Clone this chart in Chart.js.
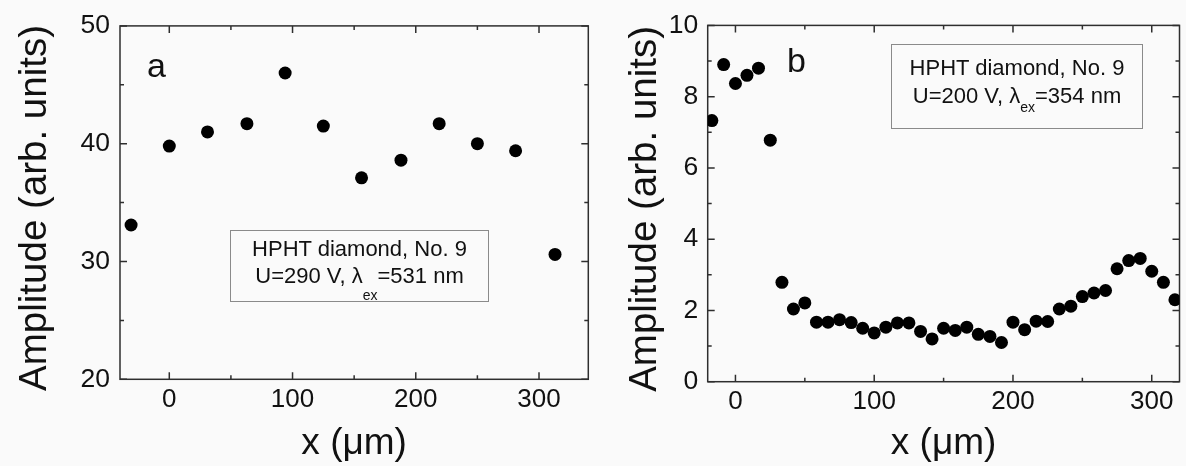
<!DOCTYPE html>
<html lang="en">
<head>
<meta charset="UTF-8" />
<title>Amplitude vs x</title>
<script src="https://cdn.jsdelivr.net/npm/chart.js"></script>
<style>
  body { margin: 0; background: #fafafa; }
  #page { position: relative; width: 1186px; height: 466px; overflow: hidden; background: #fafafa;
          font-family: "Liberation Sans", Arial, sans-serif; color: #111; }
  .panel { position: absolute; top: 0; }
  .note { position: absolute; border: 1px solid #8a8a8a; box-sizing: border-box; font-size: 22px; }
  .note div { position: absolute; left: 0; right: 0; text-align: center; line-height: 24px; white-space: nowrap; }
  .note sub { font-size: 14px; line-height: 0; }
  .letter { position: absolute; font-size: 34px; line-height: 34px; }
</style>
</head>
<body>
<div id="page">
  <canvas id="chartA" class="panel" style="left:0" width="600" height="466"></canvas>
  <canvas id="chartB" class="panel" style="left:600px" width="586" height="466"></canvas>

  <div class="letter" style="left:147px; top:48px">a</div>
  <div class="letter" style="left:787px; top:43px">b</div>

  <div class="note" style="left:230px; top:230px; width:259px; height:72px">
    <div style="top:6px">HPHT diamond, No. 9</div>
    <div style="top:33px">U=290 V, λ<sub style="vertical-align:-17px">ex</sub>=531 nm</div>
  </div>
  <div class="note" style="left:891px; top:44px; width:252px; height:85px">
    <div style="top:11px">HPHT diamond, No. 9</div>
    <div style="top:39px">U=200 V, λ<sub style="vertical-align:-9px">ex</sub>=354 nm</div>
  </div>
</div>

<script>
  // panel a : U=290 V, 531 nm
  const xA = [-31, 0, 31, 63, 94, 125, 156, 188, 219, 250, 281, 313];
  const ampA = [33.1, 39.8, 41.0, 41.7, 46.0, 41.5, 37.1, 38.6, 41.7, 40.0, 39.4, 30.6];

  // panel b : U=200 V, 354 nm
  const xB = [-17, -8.5, 0, 8.3, 16.6, 25.1, 33.5, 41.8, 50, 58.4, 66.7, 75, 83.4, 91.7, 100,
              108.4, 116.7, 125, 133.4, 141.7, 150, 158.4, 166.7, 175, 183.4, 191.7, 200, 208.4,
              216.7, 225, 233.4, 241.7, 250, 258.4, 266.7, 275, 283.4, 291.7, 300, 308.4, 316.7];
  const ampB = [7.33, 8.90, 8.37, 8.60, 8.80, 6.78, 2.79, 2.04, 2.21, 1.67, 1.67, 1.74, 1.66, 1.50, 1.37,
                1.53, 1.65, 1.65, 1.41, 1.20, 1.50, 1.44, 1.53, 1.33, 1.27, 1.10, 1.67, 1.46,
                1.70, 1.69, 2.04, 2.12, 2.39, 2.49, 2.56, 3.17, 3.40, 3.46, 3.10, 2.79, 2.30];

  // labelled ticks (the others are minor ticks without text)
  const xTickLabels = [0, 100, 200, 300];
  const yTickLabelsA = [20, 30, 40, 50];
  const yTickLabelsB = [0, 2, 4, 6, 8, 10];

  const xTitle = 'x (μm)';
  const yTitle = 'Amplitude (arb. units) '; // trailing space nudges it down a bit like the original

  Chart.defaults.font.family = '"Liberation Sans", Arial, sans-serif';
  Chart.defaults.color = '#111';

  // box around the plot + inward ticks on all four sides
  const frameTicks = {
    id: 'frameTicks',
    beforeDatasetsDraw(chart) {
      const ctx = chart.ctx, a = chart.chartArea, x = chart.scales.x, y = chart.scales.y;
      ctx.save();
      ctx.strokeStyle = '#2e2e2e';
      ctx.lineWidth = 1.5;
      ctx.beginPath();
      x.ticks.forEach(t => {
        const px = x.getPixelForValue(t.value);
        const len = t.label !== '' ? 7 : 4;
        ctx.moveTo(px, a.bottom); ctx.lineTo(px, a.bottom - len);
        ctx.moveTo(px, a.top); ctx.lineTo(px, a.top + len);
      });
      y.ticks.forEach(t => {
        const py = y.getPixelForValue(t.value);
        const len = t.label !== '' ? 7 : 4;
        ctx.moveTo(a.left, py); ctx.lineTo(a.left + len, py);
        ctx.moveTo(a.right, py); ctx.lineTo(a.right - len, py);
      });
      ctx.stroke();
      ctx.strokeRect(a.left, a.top, a.right - a.left, a.bottom - a.top);
      ctx.restore();
    }
  };

  function makeChart(id, xs, ys, o) {
    const points = xs.map((v, i) => ({ x: v, y: ys[i] }));
    return new Chart(document.getElementById(id), {
      type: 'scatter',
      data: {
        datasets: [{
          data: points,
          backgroundColor: '#000',
          borderWidth: 0,
          pointRadius: 6.5,
          pointHoverRadius: 6.5
        }]
      },
      options: {
        responsive: false,
        animation: false,
        layout: { padding: o.padding },
        plugins: { legend: { display: false }, tooltip: { enabled: false } },
        scales: {
          x: {
            type: 'linear',
            min: o.xMin, max: o.xMax,
            grid: { display: false, drawTicks: false },
            border: { display: false },
            ticks: {
              stepSize: 50, autoSkip: false, includeBounds: false, maxRotation: 0,
              padding: 5, font: { size: 26 },
              callback: v => xTickLabels.includes(v) ? String(v) : ''
            },
            title: { display: true, text: xTitle, font: { size: 37, lineHeight: 1 },
                     padding: { top: 0, bottom: 4 } },
            afterFit: s => { s.height = o.xAxisH; }
          },
          y: {
            min: o.yMin, max: o.yMax,
            grid: { display: false, drawTicks: false },
            border: { display: false },
            ticks: {
              stepSize: o.yStep, autoSkip: false, includeBounds: false,
              padding: o.yPad, font: { size: 26.5 },
              callback: v => o.yLabels.includes(v) ? String(v) : ''
            },
            title: { display: true, text: yTitle, font: { size: 38.5, lineHeight: 1 },
                     padding: { top: o.yTitlePad, bottom: 0 } },
            afterFit: s => { s.width = o.yAxisW; }
          }
        }
      },
      plugins: [frameTicks]
    });
  }

  makeChart('chartA', xA, ampA, {
    padding: { top: 24.3, right: 11.7, left: 0, bottom: 0 },
    xMin: -40, xMax: 340, yMin: 20, yMax: 50, yStep: 5, yLabels: yTickLabelsA,
    xAxisH: 86.7, yAxisW: 120, yPad: 10, yTitlePad: 16.3
  });

  makeChart('chartB', xB, ampB, {
    padding: { top: 22.3, right: 3.3, left: 0, bottom: 0 },
    xMin: -20, xMax: 320, yMin: 0, yMax: 10, yStep: 1, yLabels: yTickLabelsB,
    xAxisH: 84.3, yAxisW: 107.7, yPad: 9.5, yTitlePad: 26
  });
</script>
</body>
</html>
